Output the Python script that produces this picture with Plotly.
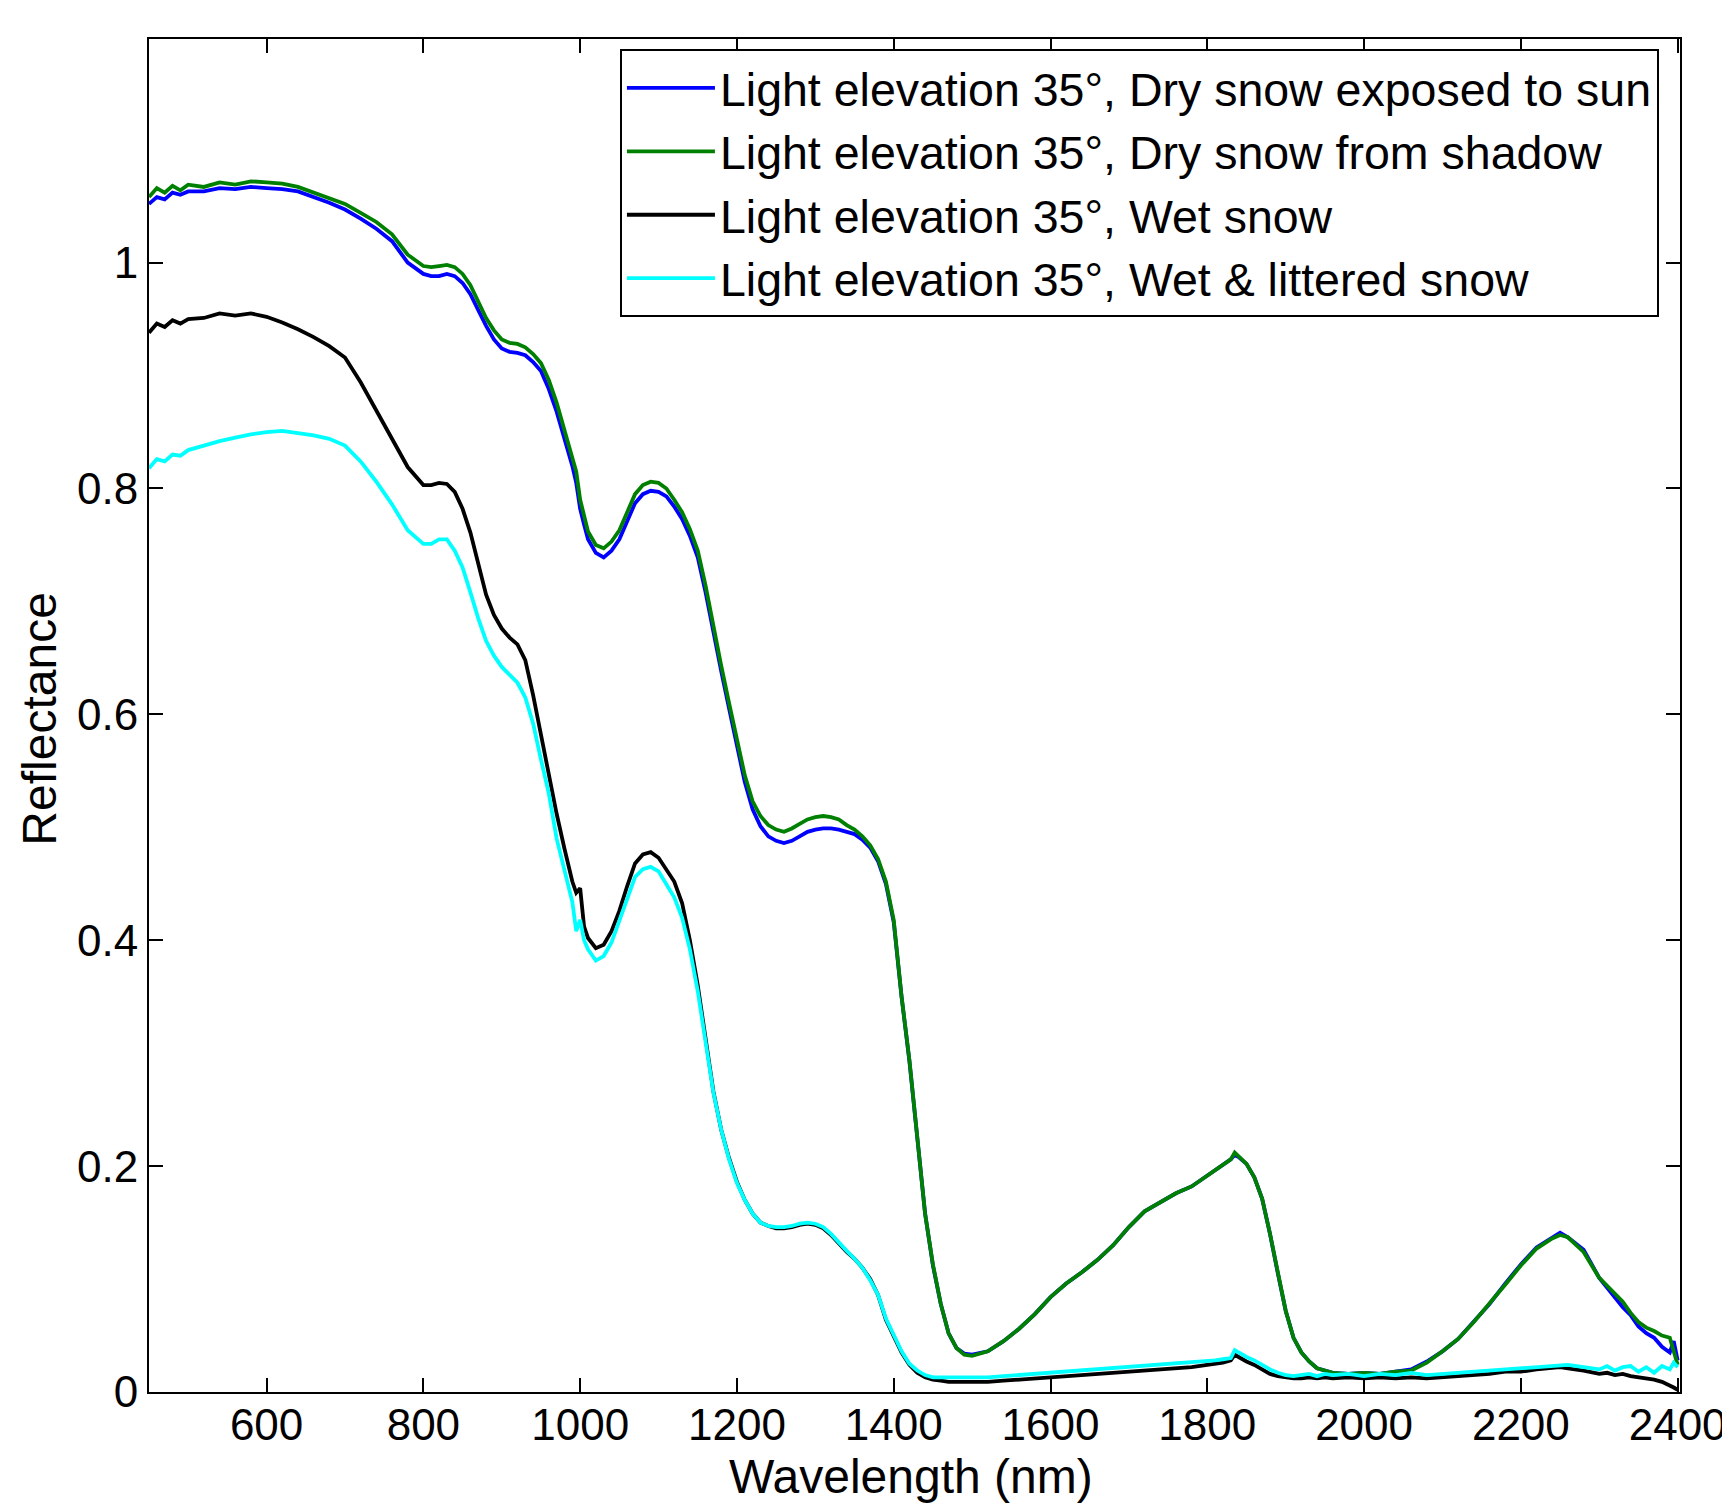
import plotly.graph_objects as go

wavelength = [
    450, 460, 470, 480, 490, 500, 520, 540, 560, 580,
    600, 620, 640, 660, 680, 700, 720, 740, 760, 780,
    800, 810, 820, 830, 840, 850, 860, 870, 880, 890,
    900, 910, 920, 930, 940, 950, 960, 970, 980, 990,
    995, 1000, 1005, 1010, 1020, 1030, 1040, 1050, 1060, 1070,
    1080, 1090, 1100, 1110, 1120, 1130, 1140, 1150, 1160, 1170,
    1180, 1190, 1200, 1210, 1220, 1230, 1240, 1250, 1260, 1270,
    1280, 1290, 1300, 1310, 1320, 1330, 1340, 1350, 1360, 1370,
    1380, 1390, 1400, 1410, 1420, 1430, 1440, 1450, 1460, 1470,
    1480, 1490, 1500, 1520, 1540, 1560, 1580, 1600, 1620, 1640,
    1660, 1680, 1700, 1720, 1740, 1760, 1780, 1800, 1810, 1820,
    1830, 1835, 1840, 1850, 1860, 1870, 1880, 1890, 1900, 1910,
    1920, 1930, 1940, 1950, 1960, 1980, 2000, 2020, 2040, 2060,
    2080, 2100, 2120, 2140, 2160, 2180, 2200, 2220, 2240, 2250,
    2260, 2280, 2300, 2310, 2320, 2330, 2340, 2350, 2360, 2370,
    2380, 2390, 2395, 2400,
]

dry_sun = [
    1.052, 1.058, 1.056, 1.062, 1.060, 1.063, 1.063, 1.066, 1.065, 1.067,
    1.066, 1.065, 1.063, 1.058, 1.053, 1.047, 1.039, 1.030, 1.019, 1.000,
    0.990, 0.988, 0.988, 0.990, 0.988, 0.982, 0.972, 0.958, 0.944, 0.932,
    0.924, 0.921, 0.920, 0.918, 0.912, 0.904, 0.888, 0.868, 0.845, 0.820,
    0.805, 0.782, 0.768, 0.755, 0.743, 0.739, 0.745, 0.755, 0.771, 0.787,
    0.795, 0.798, 0.797, 0.793, 0.784, 0.773, 0.758, 0.739, 0.708, 0.672,
    0.638, 0.605, 0.571, 0.540, 0.516, 0.501, 0.492, 0.488, 0.486, 0.488,
    0.492, 0.496, 0.498, 0.499, 0.499, 0.498, 0.496, 0.494, 0.489, 0.482,
    0.470, 0.450, 0.416, 0.350, 0.293, 0.222, 0.158, 0.112, 0.078, 0.052,
    0.039, 0.034, 0.033, 0.036, 0.045, 0.056, 0.069, 0.084, 0.096, 0.106,
    0.117, 0.130, 0.146, 0.160, 0.168, 0.176, 0.182, 0.192, 0.197, 0.201,
    0.206, 0.210, 0.208, 0.202, 0.190, 0.171, 0.140, 0.105, 0.072, 0.048,
    0.035, 0.027, 0.021, 0.019, 0.017, 0.016, 0.017, 0.016, 0.018, 0.020,
    0.027, 0.036, 0.047, 0.062, 0.078, 0.096, 0.113, 0.128, 0.137, 0.141,
    0.137, 0.126, 0.101, 0.092, 0.084, 0.075, 0.068, 0.058, 0.052, 0.048,
    0.040, 0.035, 0.045, 0.028,
]

dry_shadow = [
    1.058, 1.066, 1.062, 1.068, 1.064, 1.069, 1.067, 1.071, 1.069, 1.072,
    1.071, 1.070, 1.067, 1.062, 1.057, 1.052, 1.044, 1.036, 1.025, 1.007,
    0.997, 0.996, 0.997, 0.998, 0.996, 0.990, 0.980, 0.965, 0.951, 0.940,
    0.932, 0.929, 0.928, 0.925, 0.919, 0.911, 0.896, 0.876, 0.852, 0.828,
    0.815, 0.790, 0.776, 0.762, 0.750, 0.747, 0.753, 0.763, 0.779, 0.795,
    0.803, 0.806, 0.805, 0.800, 0.790, 0.779, 0.764, 0.745, 0.714, 0.677,
    0.643, 0.610, 0.576, 0.546, 0.523, 0.510, 0.502, 0.498, 0.496, 0.499,
    0.503, 0.507, 0.509, 0.510, 0.509, 0.507, 0.502, 0.498, 0.492, 0.484,
    0.472, 0.452, 0.418, 0.350, 0.294, 0.223, 0.158, 0.113, 0.078, 0.052,
    0.039, 0.033, 0.032, 0.036, 0.045, 0.056, 0.069, 0.084, 0.096, 0.106,
    0.117, 0.130, 0.146, 0.160, 0.168, 0.176, 0.182, 0.192, 0.197, 0.201,
    0.206, 0.212, 0.209, 0.202, 0.190, 0.171, 0.140, 0.105, 0.072, 0.048,
    0.035, 0.027, 0.021, 0.019, 0.017, 0.016, 0.017, 0.016, 0.018, 0.019,
    0.026, 0.036, 0.047, 0.062, 0.078, 0.095, 0.112, 0.127, 0.136, 0.139,
    0.137, 0.124, 0.101, 0.094, 0.087, 0.080, 0.070, 0.062, 0.057, 0.054,
    0.050, 0.048, 0.036, 0.024,
]

wet = [
    0.938, 0.946, 0.943, 0.949, 0.946, 0.950, 0.951, 0.955, 0.953, 0.955,
    0.952, 0.947, 0.941, 0.934, 0.926, 0.916, 0.894, 0.869, 0.844, 0.819,
    0.803, 0.803, 0.805, 0.804, 0.797, 0.782, 0.761, 0.733, 0.706, 0.688,
    0.676, 0.668, 0.662, 0.648, 0.617, 0.582, 0.545, 0.512, 0.481, 0.452,
    0.442, 0.446, 0.412, 0.402, 0.393, 0.396, 0.408, 0.426, 0.448, 0.468,
    0.476, 0.478, 0.473, 0.462, 0.452, 0.433, 0.400, 0.360, 0.310, 0.266,
    0.232, 0.207, 0.186, 0.170, 0.158, 0.150, 0.147, 0.145, 0.145, 0.146,
    0.148, 0.149, 0.148, 0.145, 0.139, 0.131, 0.124, 0.118, 0.110, 0.100,
    0.086, 0.064, 0.049, 0.035, 0.024, 0.017, 0.013, 0.011, 0.010, 0.009,
    0.009, 0.009, 0.009, 0.009, 0.010, 0.011, 0.012, 0.013, 0.014, 0.015,
    0.016, 0.017, 0.018, 0.019, 0.020, 0.021, 0.022, 0.024, 0.025, 0.026,
    0.028, 0.033, 0.031, 0.027, 0.024, 0.020, 0.016, 0.014, 0.013, 0.012,
    0.012, 0.013, 0.012, 0.013, 0.012, 0.013, 0.012, 0.013, 0.012, 0.013,
    0.012, 0.013, 0.014, 0.015, 0.016, 0.018, 0.018, 0.020, 0.021, 0.022,
    0.021, 0.019, 0.016, 0.017, 0.015, 0.016, 0.014, 0.013, 0.012, 0.011,
    0.009, 0.006, 0.004, 0.002,
]

wet_littered = [
    0.818, 0.826, 0.824, 0.830, 0.829, 0.834, 0.838, 0.842, 0.845, 0.848,
    0.850, 0.851, 0.849, 0.847, 0.844, 0.838, 0.824, 0.806, 0.786, 0.763,
    0.751, 0.751, 0.755, 0.755, 0.745, 0.730, 0.708, 0.685, 0.665, 0.652,
    0.642, 0.635, 0.628, 0.615, 0.592, 0.560, 0.530, 0.490, 0.462, 0.434,
    0.408, 0.418, 0.400, 0.392, 0.382, 0.386, 0.398, 0.417, 0.437, 0.456,
    0.463, 0.465, 0.461, 0.450, 0.438, 0.420, 0.392, 0.355, 0.308, 0.265,
    0.232, 0.206, 0.185, 0.170, 0.158, 0.150, 0.147, 0.146, 0.146, 0.147,
    0.149, 0.150, 0.149, 0.146, 0.140, 0.132, 0.125, 0.118, 0.110, 0.099,
    0.086, 0.065, 0.050, 0.036, 0.025, 0.019, 0.015, 0.013, 0.013, 0.013,
    0.013, 0.013, 0.013, 0.013, 0.014, 0.015, 0.016, 0.017, 0.018, 0.019,
    0.020, 0.021, 0.022, 0.023, 0.024, 0.025, 0.026, 0.027, 0.028, 0.029,
    0.030, 0.037, 0.035, 0.031, 0.028, 0.024, 0.020, 0.017, 0.015, 0.014,
    0.015, 0.016, 0.014, 0.016, 0.015, 0.016, 0.014, 0.016, 0.015, 0.017,
    0.015, 0.016, 0.017, 0.018, 0.019, 0.020, 0.021, 0.022, 0.023, 0.024,
    0.024, 0.022, 0.020, 0.023, 0.019, 0.022, 0.023, 0.018, 0.022, 0.017,
    0.023, 0.020, 0.026, 0.022,
]

labels = [
    "Light elevation 35°, Dry snow exposed to sun",
    "Light elevation 35°, Dry snow from shadow",
    "Light elevation 35°, Wet snow",
    "Light elevation 35°, Wet & littered snow",
]
colors = ["#0000ff", "#008000", "#000000", "#00ffff"]
series = [dry_sun, dry_shadow, wet, wet_littered]

x_ticks = [600, 800, 1000, 1200, 1400, 1600, 1800, 2000, 2200, 2400]
y_ticks = [0, 0.2, 0.4, 0.6, 0.8, 1]
x_title = "Wavelength (nm)"
y_title = "Reflectance"

for s in series:
    assert len(s) == len(wavelength), (len(s), len(wavelength))

FONT = "Liberation Sans, Arial, Helvetica, sans-serif"

fig = go.Figure()
for name, col, vals in zip(labels, colors, series):
    fig.add_trace(go.Scatter(x=wavelength, y=vals, mode="lines", name=name,
                             line=dict(color=col, width=3.8)))

axis_common = dict(ticks="inside", ticklen=14, tickwidth=1.5, tickcolor="black",
                   mirror="ticks", showline=True, linecolor="black", linewidth=2,
                   showgrid=False, zeroline=False, automargin=False,
                   tickfont=dict(family=FONT, size=44, color="black"))

# page body has a default 8px margin, so the figure is sized to fit the window
fig.update_layout(
    width=1722, height=1498,
    margin=dict(l=141, r=50, t=31, b=114, autoexpand=False),
    paper_bgcolor="white", plot_bgcolor="white",
    font=dict(family=FONT, size=46, color="black"),
    showlegend=True,
    legend=dict(x=0.3076, y=0.9925, xanchor="left", yanchor="top",
                bgcolor="white", bordercolor="black", borderwidth=2,
                font=dict(family=FONT, size=46.5, color="black"),
                itemwidth=88, tracegroupgap=0),
    xaxis=dict(range=[450, 2403], tickvals=x_ticks, ticklabelstandoff=-7, **axis_common),
    yaxis=dict(range=[0, 1.198], tickvals=y_ticks, **axis_common),
    annotations=[
        dict(text=x_title, xref="paper", yref="paper", x=0.4977, y=-0.0621,
             xanchor="center", yanchor="middle", showarrow=False,
             font=dict(family=FONT, size=48, color="black")),
        dict(text=y_title, xref="paper", yref="paper", x=-0.0718, y=0.497,
             xanchor="center", yanchor="middle", showarrow=False, textangle=-90,
             font=dict(family=FONT, size=48, color="black")),
    ],
)

fig.write_html("out.html")
